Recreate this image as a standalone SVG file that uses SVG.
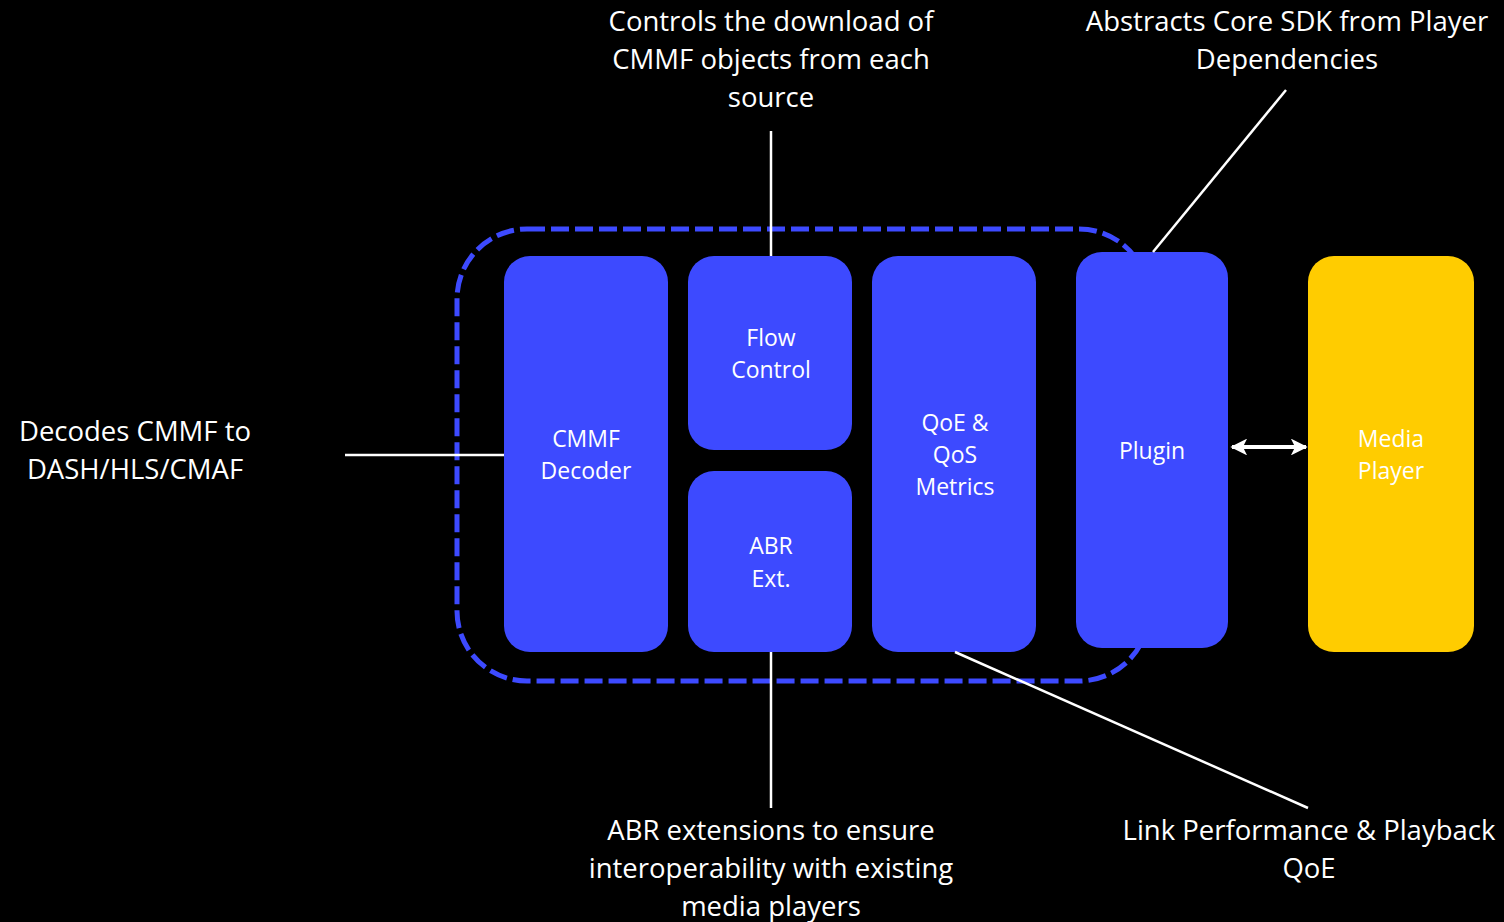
<svg xmlns="http://www.w3.org/2000/svg" width="1504" height="922" viewBox="0 0 1504 922">
  <style>
    .box { fill: #3D4AFF; }
    .player { fill: #FFCC00; }
    .lbl { font-family: "Open Sans", "Liberation Sans", sans-serif; font-size: 23px; fill: #FFFFFF; text-anchor: middle; }
    .note { font-family: "Open Sans", "Liberation Sans", sans-serif; font-size: 27.5px; fill: #FFFFFF; text-anchor: middle; }
    .lead { stroke: #FFFFFF; stroke-width: 2.5; fill: none; }
  </style>
  <defs>
    <marker id="head" viewBox="0 0 10 10" refX="9" refY="5" markerWidth="4.2" markerHeight="4.2" orient="auto-start-reverse" markerUnits="strokeWidth">
      <path d="M0,0 L10,5 L0,10 L2.5,5 Z" fill="#FFFFFF"/>
    </marker>
  </defs>
  <rect width="1504" height="922" fill="#000000"/>

  <!-- SDK boundary -->
  <rect id="sdk-boundary" x="457" y="229" width="692" height="452" rx="70" ry="70" fill="none" stroke="#3D4AFF" stroke-width="5" stroke-dasharray="18 6"/>

  <g id="cmmf-decoder">
    <rect class="box" x="504" y="256" width="164" height="396" rx="26"/>
    <text class="lbl" x="586" y="447">CMMF</text>
    <text class="lbl" x="586" y="479">Decoder</text>
  </g>
  <g id="flow-control">
    <rect class="box" x="688" y="256" width="164" height="194" rx="26"/>
    <text class="lbl" x="771" y="346">Flow</text>
    <text class="lbl" x="771" y="378">Control</text>
  </g>
  <g id="abr-ext">
    <rect class="box" x="688" y="471" width="164" height="181" rx="26"/>
    <text class="lbl" x="771" y="554">ABR</text>
    <text class="lbl" x="771" y="587">Ext.</text>
  </g>
  <g id="qoe-metrics">
    <rect class="box" x="872" y="256" width="164" height="396" rx="26"/>
    <text class="lbl" x="955" y="431">QoE &amp;</text>
    <text class="lbl" x="955" y="463">QoS</text>
    <text class="lbl" x="955" y="495">Metrics</text>
  </g>
  <g id="plugin">
    <rect class="box" x="1076" y="252" width="152" height="396" rx="26"/>
    <text class="lbl" x="1152" y="459">Plugin</text>
  </g>
  <g id="media-player">
    <rect class="player" x="1308" y="256" width="166" height="396" rx="26"/>
    <text class="lbl" x="1391" y="447">Media</text>
    <text class="lbl" x="1391" y="479">Player</text>
  </g>

  <g id="connectors">
    <line class="lead" x1="771" y1="131" x2="771" y2="256"/>
    <line class="lead" x1="1286" y1="90" x2="1153" y2="252"/>
    <line class="lead" x1="345" y1="455" x2="504" y2="455"/>
    <line class="lead" x1="771" y1="652" x2="771" y2="808"/>
    <line class="lead" x1="955" y1="652" x2="1308" y2="808"/>
    <line stroke="#FFFFFF" stroke-width="4" x1="1232" y1="447" x2="1306" y2="447" marker-start="url(#head)" marker-end="url(#head)"/>
  </g>

  <g id="notes">
    <text class="note" x="771" y="31">Controls the download of</text>
    <text class="note" x="771" y="69">CMMF objects from each</text>
    <text class="note" x="771" y="107">source</text>
    <text class="note" x="1287" y="31">Abstracts Core SDK from Player</text>
    <text class="note" x="1287" y="69">Dependencies</text>
    <text class="note" x="135" y="441">Decodes CMMF to</text>
    <text class="note" x="135" y="479">DASH/HLS/CMAF</text>
    <text class="note" x="771" y="840">ABR extensions to ensure</text>
    <text class="note" x="771" y="878">interoperability with existing</text>
    <text class="note" x="771" y="916">media players</text>
    <text class="note" x="1309" y="840">Link Performance &amp; Playback</text>
    <text class="note" x="1309" y="878">QoE</text>
  </g>
</svg>
